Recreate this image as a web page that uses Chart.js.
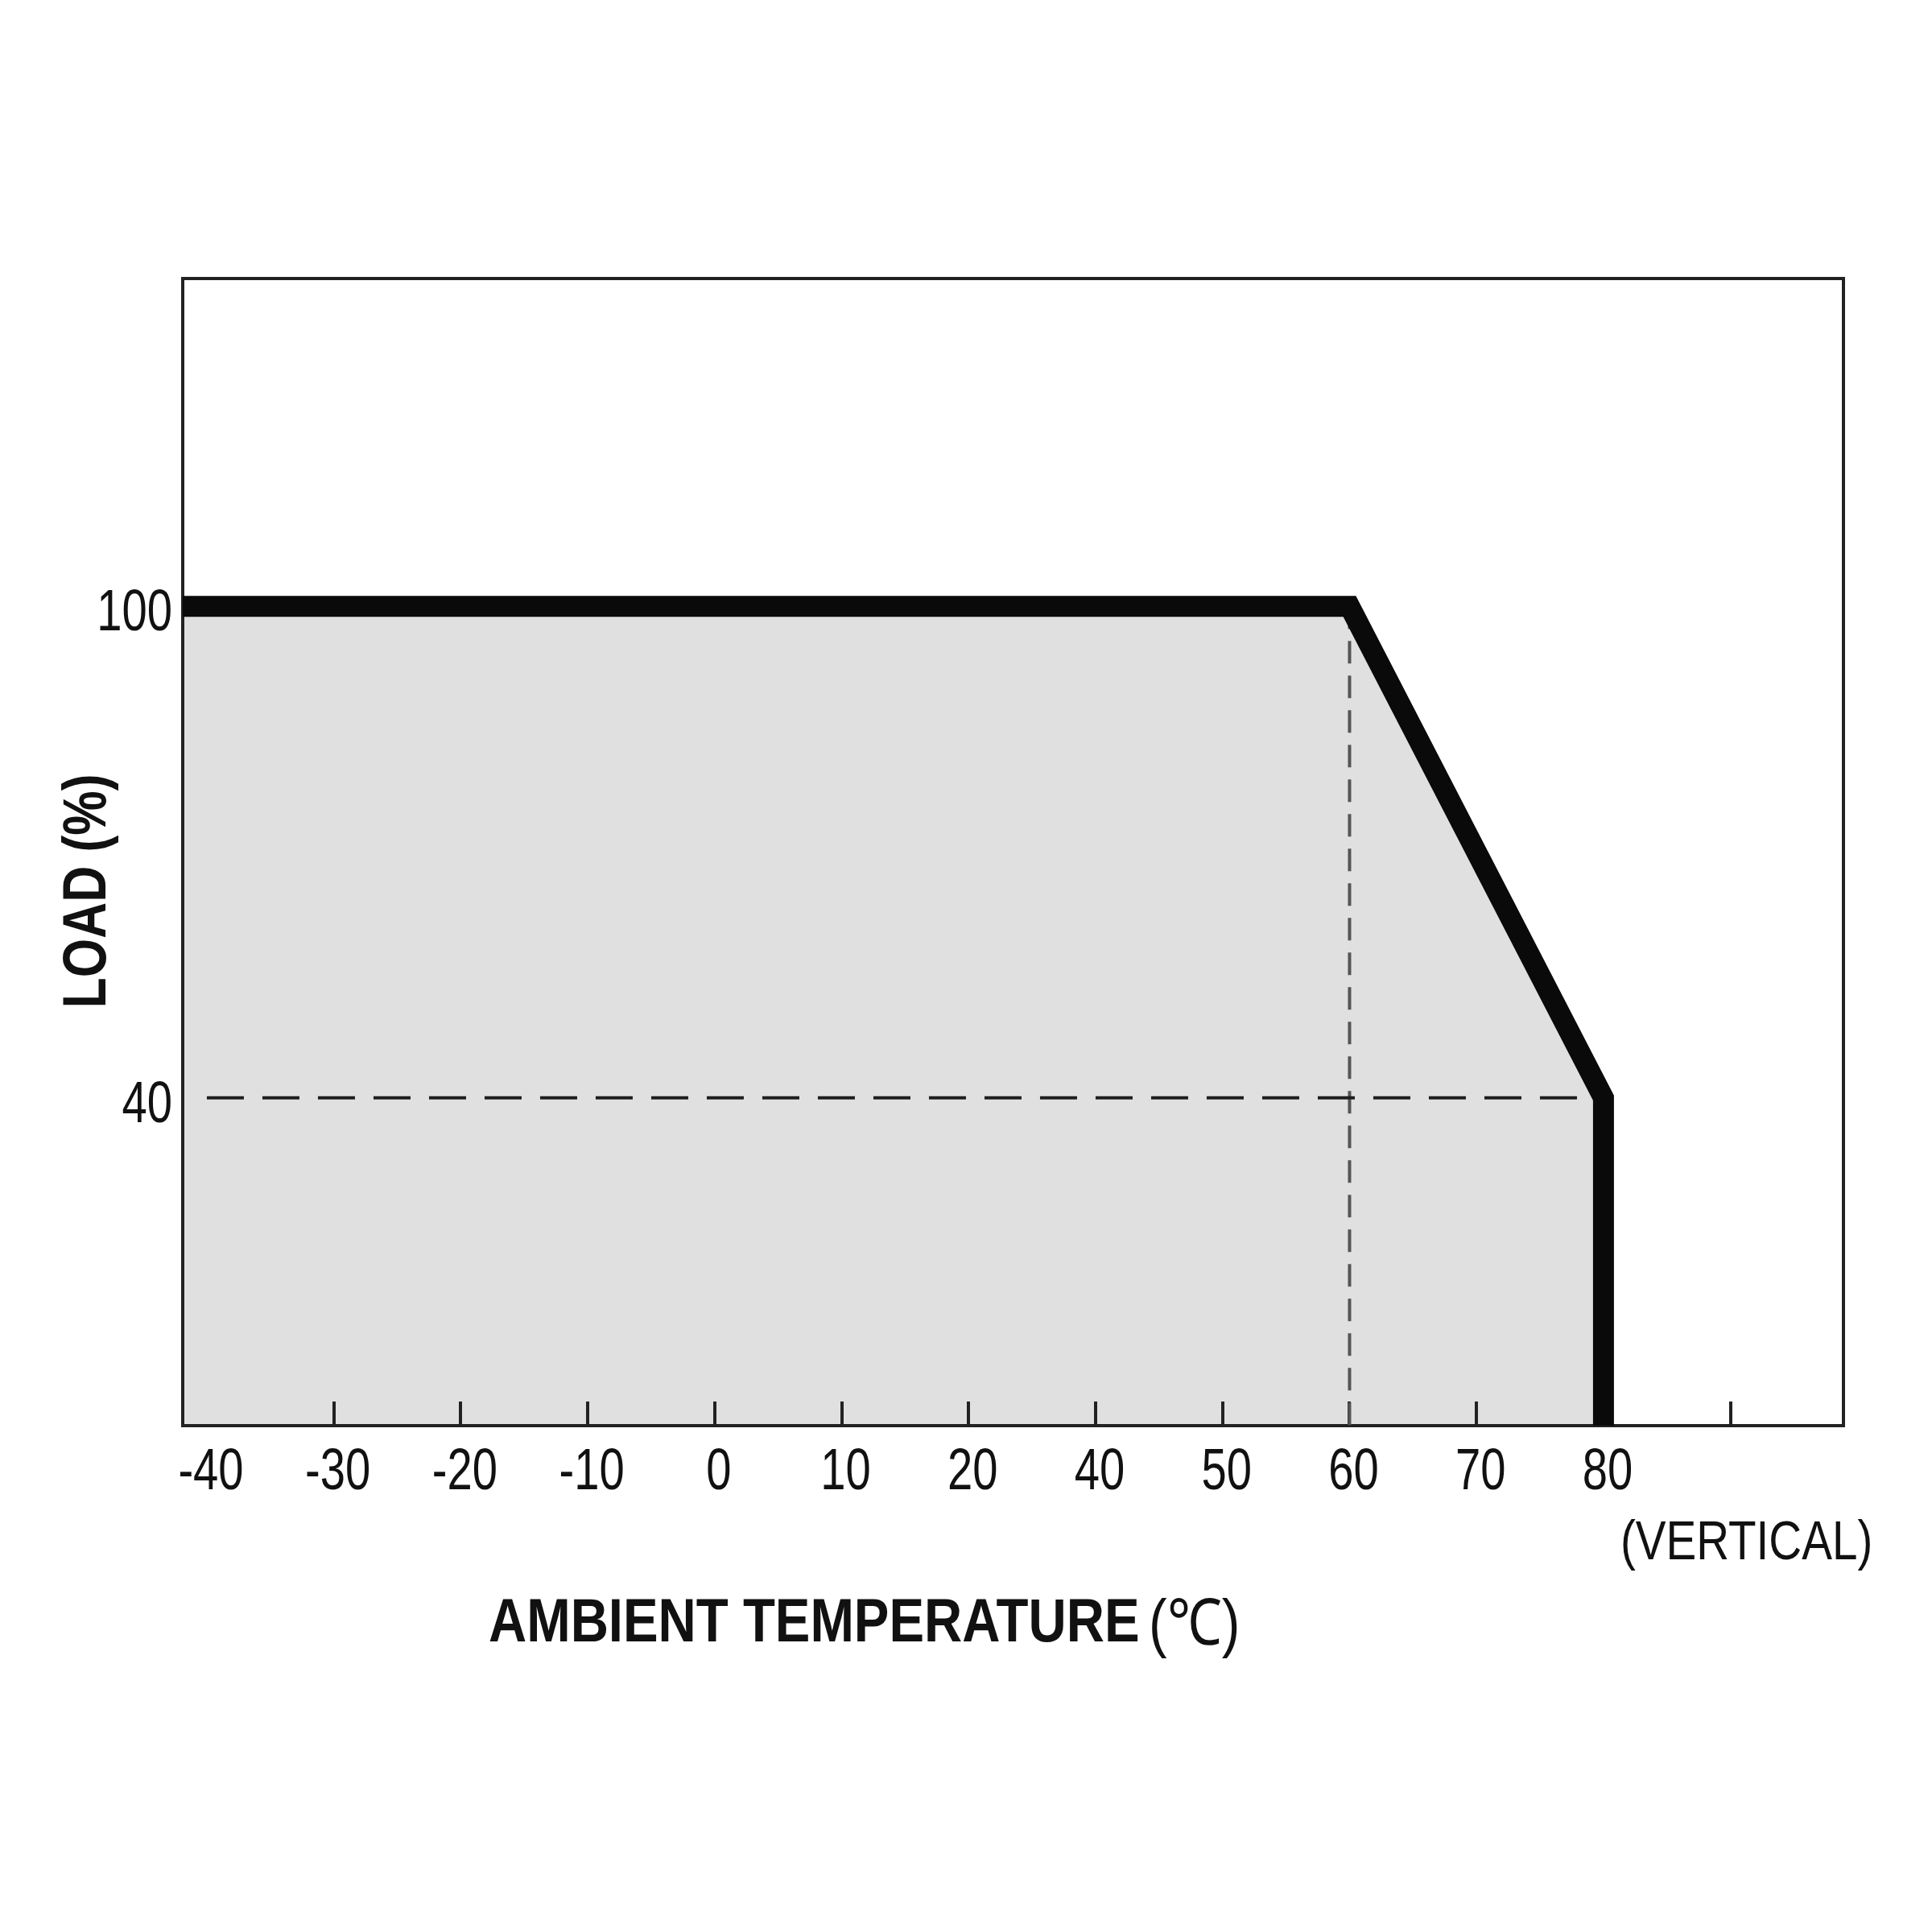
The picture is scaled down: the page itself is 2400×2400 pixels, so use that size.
<!DOCTYPE html>
<html>
<head>
<meta charset="utf-8">
<script src="https://cdn.jsdelivr.net/npm/chart.js@4.4.1/dist/chart.umd.min.js"></script>
<style>
  html, body { margin: 0; padding: 0; background: #fff; }
  #chart { display: block; }
</style>
</head>
<body>
<canvas id="chart" width="2400" height="2400"></canvas>
<script>
const tempLabels = ['-40', '-30', '-20', '-10', '0', '10', '20', '40', '50', '60', '70', '80', ''];
const loadTicks = [40, 100];

const curveTemps = ['-40', '60', '80', '80'];
const curveLoads = [100, 100, 40, 0];

const hGuideTemps = ['-40', '80'];
const hGuideLoads = [40, 40];
const vGuideTemps = ['60', '60'];
const vGuideLoads = [100, 0];

const X_MIN = -0.19;
const X_MAX = 12.89;
const Y_MAX = 140;

// no narrow face installed, so Liberation Sans gets squeezed sideways
const FONT = '"Liberation Sans", Arial, sans-serif';
const INK = '#111';

const pos = (t) => tempLabels.indexOf(t);
const points = (temps, loads) => temps.map((t, i) => ({ x: pos(t), y: loads[i] }));

const curve = points(curveTemps, curveLoads);
curve[0].x = X_MIN; // plateau starts at the left edge of the plot

const narrowText = (ctx, text, x, y, font, align, squeeze) => {
    ctx.save();
    ctx.translate(x, y);
    ctx.scale(squeeze, 1);
    ctx.font = font;
    ctx.textAlign = align;
    ctx.textBaseline = 'alphabetic';
    ctx.fillStyle = INK;
    ctx.fillText(text, 0, 0);
    ctx.restore();
};

const framePlugin = {
    id: 'frame',
    beforeDatasetsDraw(chart) {
        const { ctx, chartArea: a, scales: { x } } = chart;
        ctx.save();
        ctx.strokeStyle = '#222';
        ctx.lineWidth = 4;
        // short inward ticks, none drawn at -40
        x.ticks.forEach((t, i) => {
            if (i === 0) return;
            const px = Math.round(x.getPixelForValue(t.value));
            ctx.beginPath();
            ctx.moveTo(px, a.bottom);
            ctx.lineTo(px, a.bottom - 30);
            ctx.stroke();
        });
        ctx.strokeRect(a.left, a.top, a.right - a.left, a.bottom - a.top);
        ctx.restore();
    },
    afterDraw(chart) {
        const { ctx, chartArea: a, scales: { x, y } } = chart;

        x.ticks.forEach((t) => {
            const label = tempLabels[t.value];
            if (!label) return;
            narrowText(ctx, label, x.getPixelForValue(t.value) + 5, a.bottom + 79, '72px ' + FONT, 'center', 0.78);
        });
        y.ticks.forEach((t) => {
            narrowText(ctx, String(t.value), a.left - 13, y.getPixelForValue(t.value) + 30, '72px ' + FONT, 'right', 0.78);
        });

        narrowText(ctx, '(VERTICAL)', x.getPixelForValue(pos('80')) + 21, a.bottom + 166, '69px ' + FONT, 'left', 0.82);

        const tx = a.left + 380;
        const ty = a.bottom + 268;
        narrowText(ctx, 'AMBIENT TEMPERATURE', tx, ty, 'bold 76px ' + FONT, 'left', 0.86);
        narrowText(ctx, '(℃)', tx + 820, ty + 4, '80px ' + FONT, 'left', 0.85);

        ctx.save();
        ctx.translate(131, a.top + 761);
        ctx.rotate(-Math.PI / 2);
        narrowText(ctx, 'LOAD (%)', 0, 0, 'bold 76px ' + FONT, 'center', 0.82);
        ctx.restore();
    },
};

new Chart(document.getElementById('chart'), {
    type: 'line',
    data: {
        datasets: [
            {
                data: curve,
                borderColor: '#0a0a0a',
                borderWidth: 26,
                borderJoinStyle: 'miter',
                backgroundColor: '#dfe0df',
                fill: 'origin',
                pointRadius: 0,
                tension: 0,
                order: 0,
            },
            {
                data: points(hGuideTemps, hGuideLoads),
                borderColor: '#1e1e1e',
                borderWidth: 4,
                borderDash: [46, 23],
                pointRadius: 0,
                fill: false,
                order: 1,
            },
            {
                data: points(vGuideTemps, vGuideLoads),
                borderColor: '#555',
                borderWidth: 4,
                borderDash: [28, 15],
                pointRadius: 0,
                fill: false,
                order: 1,
            },
        ],
    },
    options: {
        responsive: false,
        animation: false,
        layout: { padding: { top: 346, right: 110, left: 0, bottom: 0 } },
        plugins: {
            legend: { display: false },
            tooltip: { enabled: false },
            filler: { drawTime: 'beforeDatasetsDraw' },
        },
        scales: {
            x: {
                type: 'linear',
                min: X_MIN,
                max: X_MAX,
                border: { display: false },
                grid: { display: false, drawTicks: false },
                afterBuildTicks: (s) => {
                    s.ticks = tempLabels.map((_, i) => ({ value: i }));
                },
                afterFit: (s) => {
                    s.height = 629;
                },
                ticks: { display: false },
            },
            y: {
                type: 'linear',
                min: 0,
                max: Y_MAX,
                border: { display: false },
                grid: { display: false, drawTicks: false },
                afterBuildTicks: (s) => {
                    s.ticks = loadTicks.map((v) => ({ value: v }));
                },
                afterFit: (s) => {
                    s.width = 227;
                },
                ticks: { display: false },
            },
        },
    },
    plugins: [framePlugin],
});
</script>
</body>
</html>
